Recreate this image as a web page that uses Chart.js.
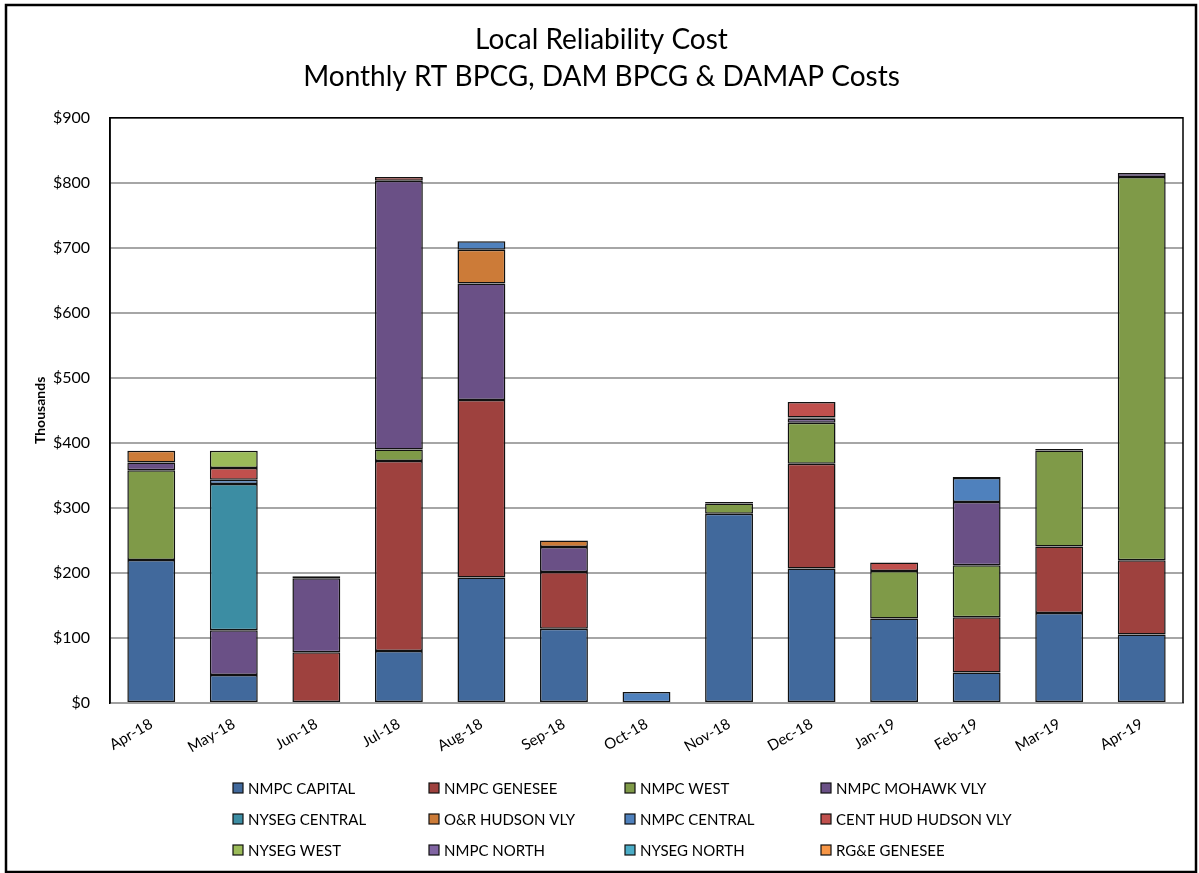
<!DOCTYPE html>
<html>
<head>
<meta charset="utf-8">
<script src="https://cdn.jsdelivr.net/npm/chart.js@4"></script>
<style>
  html, body { margin: 0; padding: 0; background: #fff; }
  #wrap { width: 1199px; height: 873px; position: relative; }
</style>
</head>
<body>
<div id="wrap"><canvas id="costChart"></canvas></div>
<script>
// monthly local reliability cost by zone, $ thousands
const months = ['Apr-18', 'May-18', 'Jun-18', 'Jul-18', 'Aug-18', 'Sep-18', 'Oct-18',
  'Nov-18', 'Dec-18', 'Jan-19', 'Feb-19', 'Mar-19', 'Apr-19'];

const nmpcCapital   = [220, 43, 0, 80, 193, 114, 1, 291, 207, 130, 47, 138.5, 105.5];
const nmpcGenesee   = [0, 0, 78, 292, 273, 87.5, 0, 0, 161, 0, 85, 102, 114];
const nmpcWest      = [138, 0, 0, 18, 0, 0, 0, 16, 63, 73, 80, 148, 589.5];
const nmpcMohawk    = [12, 69, 114, 413, 179, 38.5, 0, 2, 6, 0, 97, 2, 6];
const nysegCentral  = [0, 225, 0, 0, 0, 0, 0, 0, 2, 0, 0, 0, 0];
const orHudson      = [18, 0, 0, 0, 52, 10, 0, 0, 0, 0, 0, 0, 0];
const nmpcCentral   = [0, 6.5, 3, 0, 13, 0, 16, 0, 0, 0, 37, 0, 0];
const centHudHudson = [0, 18, 0, 6, 0, 0, 0, 0, 24, 13, 1.5, 0, 0];
const nysegWest     = [0, 26.5, 0, 0, 0, 0, 0, 0, 0, 0, 0, 0, 0];
const nmpcNorth     = [0, 0, 0, 0, 0, 0, 0, 0, 0, 0, 0, 0, 0];
const nysegNorth    = [0, 0, 0, 0, 0, 0, 0, 0, 0, 0, 0, 0, 0];
const rgeGenesee    = [0, 0, 0, 0, 0, 0, 0, 0, 0, 0, 0, 0, 0];

const yTicks = [0, 100, 200, 300, 400, 500, 600, 700, 800, 900];

const FONT = 'Lato, "Open Sans", sans-serif';

function series(label, data, color) {
  return {
    label: label,
    data: data,
    backgroundColor: color,
    borderColor: '#111',
    borderWidth: 1.5,
    borderSkipped: false,
    barPercentage: 0.58,
    categoryPercentage: 1
  };
}

// frame around the whole chart + black edges of the plot area
const frame = {
  id: 'frame',
  afterDraw(chart) {
    const c = chart.ctx, a = chart.chartArea;
    c.save();
    c.strokeStyle = '#000';
    c.lineWidth = 2.5;
    c.strokeRect(6, 5, 1190, 867);
    c.lineWidth = 1.5;
    c.beginPath();
    c.moveTo(a.left, a.bottom);
    c.lineTo(a.left, a.top);
    c.lineTo(a.right, a.top);
    c.lineTo(a.right, a.bottom);
    c.stroke();
    c.restore();
  }
};

// legend as a 4-column grid under the axis
const gridLegend = {
  id: 'gridLegend',
  afterDraw(chart) {
    const c = chart.ctx;
    c.save();
    c.font = '15px ' + FONT;
    c.textBaseline = 'middle';
    c.textAlign = 'left';
    chart.data.datasets.forEach((ds, i) => {
      const col = i % 4, row = Math.floor(i / 4);
      const x = 233 + col * 196, y = 788 + row * 31;
      c.fillStyle = ds.backgroundColor;
      c.fillRect(x, y - 5, 10, 10);
      c.strokeStyle = '#111';
      c.lineWidth = 1.2;
      c.strokeRect(x, y - 5, 10, 10);
      c.fillStyle = '#000';
      c.fillText(ds.label, x + 15, y + 1);
    });
    c.restore();
  }
};

new Chart(document.getElementById('costChart'), {
  type: 'bar',
  data: {
    labels: months,
    datasets: [
      series('NMPC CAPITAL', nmpcCapital, '#41699C'),
      series('NMPC GENESEE', nmpcGenesee, '#9E413E'),
      series('NMPC WEST', nmpcWest, '#7F9A48'),
      series('NMPC MOHAWK VLY', nmpcMohawk, '#6A5086'),
      series('NYSEG CENTRAL', nysegCentral, '#3C8DA3'),
      series('O&R HUDSON VLY', orHudson, '#CC7B38'),
      series('NMPC CENTRAL', nmpcCentral, '#4F81BD'),
      series('CENT HUD HUDSON VLY', centHudHudson, '#C0504D'),
      series('NYSEG WEST', nysegWest, '#9BBB59'),
      series('NMPC NORTH', nmpcNorth, '#8064A2'),
      series('NYSEG NORTH', nysegNorth, '#4BACC6'),
      series('RG&E GENESEE', rgeGenesee, '#F79646')
    ]
  },
  plugins: [frame, gridLegend],
  options: {
    responsive: true,
    maintainAspectRatio: false,
    animation: false,
    layout: { padding: { left: 20, right: 16, top: 10, bottom: 110 } },
    plugins: {
      legend: { display: false },
      tooltip: { enabled: false },
      title: {
        display: true,
        text: ['Local Reliability Cost', 'Monthly RT BPCG, DAM BPCG & DAMAP Costs'],
        color: '#000',
        font: { family: FONT, size: 28, weight: 'normal', lineHeight: 1.3 },
        padding: { top: 12, bottom: 23 }
      }
    },
    scales: {
      x: {
        stacked: true,
        grid: { display: false },
        border: { color: '#a0a0a0', width: 2 },
        ticks: {
          color: '#000',
          font: { family: FONT, size: 15 },
          minRotation: 30,
          maxRotation: 30,
          padding: 4
        },
        afterFit(s) { s.height = 60; }
      },
      y: {
        stacked: true,
        min: 0,
        max: 900,
        afterBuildTicks(s) { s.ticks = yTicks.map(v => ({ value: v })); },
        grid: { color: '#a6a6a6', lineWidth: 2, drawTicks: false },
        border: { color: '#000', width: 1.5 },
        ticks: {
          color: '#000',
          font: { family: FONT, size: 16 },
          padding: 20,
          callback: v => '$' + v
        },
        title: {
          display: true,
          text: 'Thousands',
          color: '#000',
          font: { family: FONT, size: 14, weight: 'bold' },
          padding: { top: 12, bottom: 0 }
        },
        afterFit(s) { s.width = 90; }
      }
    }
  }
});
</script>
</body>
</html>
